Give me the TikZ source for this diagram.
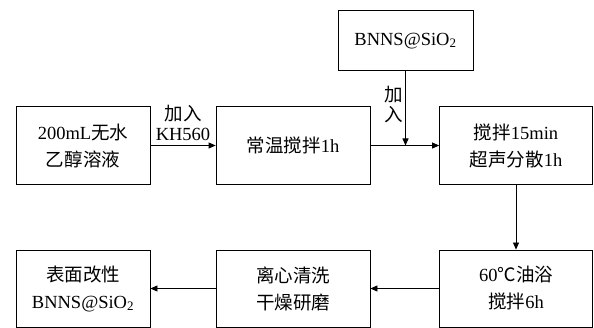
\documentclass[tikz,border=0pt]{standalone}
\usepackage{fontspec}
\setmainfont{Liberation Serif}
\newfontfamily\cjk{Noto Sans CJK SC}
\usepackage{tikz}
\usetikzlibrary{arrows.meta,positioning}
\tikzset{
  ar/.style={-{Triangle[length=7pt,width=6pt]},line width=0.8pt},
  box/.style={draw,line width=0.8pt,align=center,inner sep=2pt,minimum height=78pt,font=\fontsize{18.5}{27}\selectfont},
  lbl/.style={align=center,inner sep=1pt,font=\fontsize{18.5}{20}\selectfont}
}
\begin{document}
\begin{tikzpicture}[x=1pt,y=-1pt]
\useasboundingbox (0,0) rectangle (594,328);
% top row
\node[box,minimum width=134pt] (etoh) at (83,145.5) {200mL{\cjk 无水}\\{\cjk 乙醇溶液}};
\node[box,minimum width=154pt] (stir) at (293,145.5) {{\cjk 常温搅拌}1h};
\node[box,minimum width=153pt] (sono) at (516,145.5) {{\cjk 搅拌}15min\\{\cjk 超声分散}1h};
\node[box,minimum width=135pt,minimum height=60pt] (bnns) at (405.5,40.7) {BNNS@SiO\textsubscript{2}};
% bottom row
\node[box,minimum width=153pt,minimum height=77pt] (bath) at (516,288.5) {60{\cjk ℃油浴}\\{\cjk 搅拌}6h};
\node[box,minimum width=154pt,minimum height=77pt] (wash) at (293,288.5) {{\cjk 离心清洗}\\{\cjk 干燥研磨}};
\node[box,minimum width=134pt,minimum height=77pt] (prod) at (83,288.5) {{\cjk 表面改性}\\BNNS@SiO\textsubscript{2}};
% connectors
\coordinate (join) at (bnns.south |- stir.east);
\draw[ar] (etoh) -- node[lbl,above=3pt] {{\cjk 加入}\\KH560} (stir);
\draw[ar] (stir) -- (sono);
\draw[ar] (bnns) -- node[lbl,left=1pt,pos=0.45] {{\cjk 加}\\{\cjk 入}} (join);
\draw[ar] (sono) -- (bath);
\draw[ar] (bath) -- (wash);
\draw[ar] (wash) -- (prod);
\end{tikzpicture}
\end{document}
